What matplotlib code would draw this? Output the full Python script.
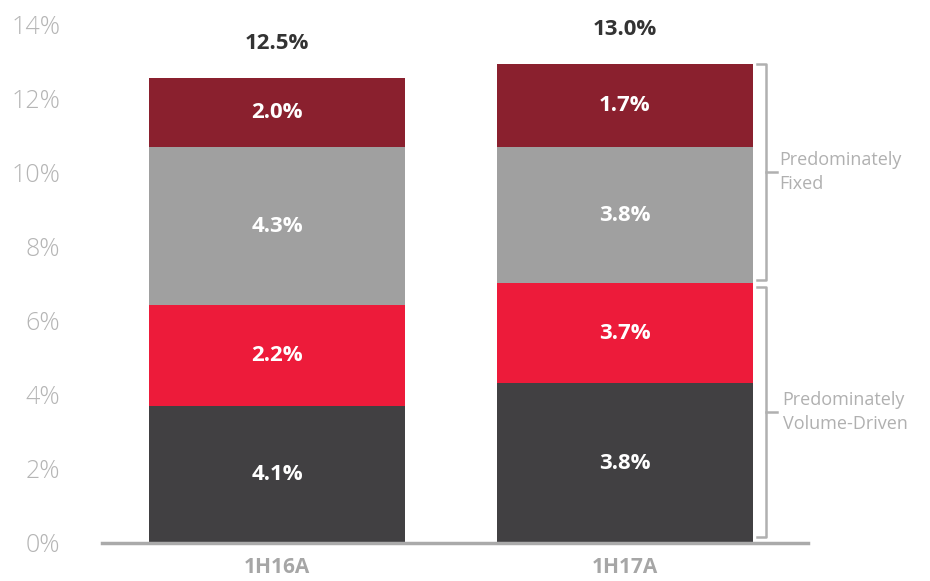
import matplotlib.pyplot as plt
import numpy as np

plt.rcParams['font.family'] = ['Open Sans', 'DejaVu Sans']

categories = ['1H16A', '1H17A']
# segment heights as drawn (bottom to top)
volume_base = [3.70, 4.32]
volume_var = [2.73, 2.70]
fixed_base = [4.27, 3.68]
fixed_top = [1.86, 2.24]
# labels printed in the segments
volume_base_lbl = ['4.1%', '3.8%']
volume_var_lbl = ['2.2%', '3.7%']
fixed_base_lbl = ['4.3%', '3.8%']
fixed_top_lbl = ['2.0%', '1.7%']
total_lbl = ['12.5%', '13.0%']

colors = ['#414042', '#ed1b3a', '#a0a0a0', '#8a202e']

fig = plt.figure(figsize=(9.3, 5.81), dpi=100)
ax = fig.add_axes([102 / 930, 1 - 543 / 581, 706 / 930, 518 / 581])

x = np.arange(len(categories))
width = 0.737
bottom = np.zeros(len(categories))
segments = [(volume_base, volume_base_lbl), (volume_var, volume_var_lbl),
            (fixed_base, fixed_base_lbl), (fixed_top, fixed_top_lbl)]
for (vals, lbls), c in zip(segments, colors):
    vals = np.array(vals)
    ax.bar(x, vals, width, bottom=bottom, color=c, zorder=2)
    for xi, b, v, l in zip(x, bottom, vals, lbls):
        ax.text(xi, b + v / 2, l, ha='center', va='center', color='white',
                fontsize=16, fontweight='bold')
    bottom = bottom + vals

for xi, t, l in zip(x, bottom, total_lbl):
    ax.annotate(l, (xi, t), xytext=(0, 25), textcoords='offset points',
                ha='center', va='center', color='#333333', fontsize=16,
                fontweight='bold')

ax.set_xlim(-0.504, 1.528)
ax.set_ylim(0, 14)
ax.set_yticks(range(0, 15, 2))
ax.set_yticklabels([f'{v}%' for v in range(0, 15, 2)])
ax.set_xticks(x)
ax.set_xticklabels(categories)
ax.tick_params(axis='y', length=0, pad=30, labelsize=18, labelcolor='#b5b5b5')
ax.tick_params(axis='x', length=0, pad=10, labelsize=15, labelcolor='#a6a6a6')
for lbl in ax.get_xticklabels():
    lbl.set_fontweight('bold')
for lbl in ax.get_yticklabels():
    lbl.set_fontweight('light')
for s in ['top', 'right', 'left']:
    ax.spines[s].set_visible(False)
ax.spines['bottom'].set_color('#aaaaaa')
ax.spines['bottom'].set_linewidth(2.5)

# brackets next to second bar
bx = 1.407
bl = 1.381
br = 1.439
vb = volume_base[1] + volume_var[1]
brackets = [(vb + 0.08, bottom[1], 'Predominately\nFixed', 1.446),
            (0.16, vb - 0.11, 'Predominately\nVolume-Driven', 1.455)]
for lo, hi, txt, tx in brackets:
    ax.plot([bl, bx, bx, bl], [hi, hi, lo, lo], color='#b0b0b0', lw=1.8,
            clip_on=False, zorder=3)
    mid = (lo + hi) / 2
    ax.plot([bx, br], [mid, mid], color='#b0b0b0', lw=1.8, clip_on=False)
    ax.text(tx, mid, txt, ha='left', va='center', color='#b0b0b0',
            fontsize=13, linespacing=1.45, clip_on=False)

fig.savefig('out.png', dpi=100)
